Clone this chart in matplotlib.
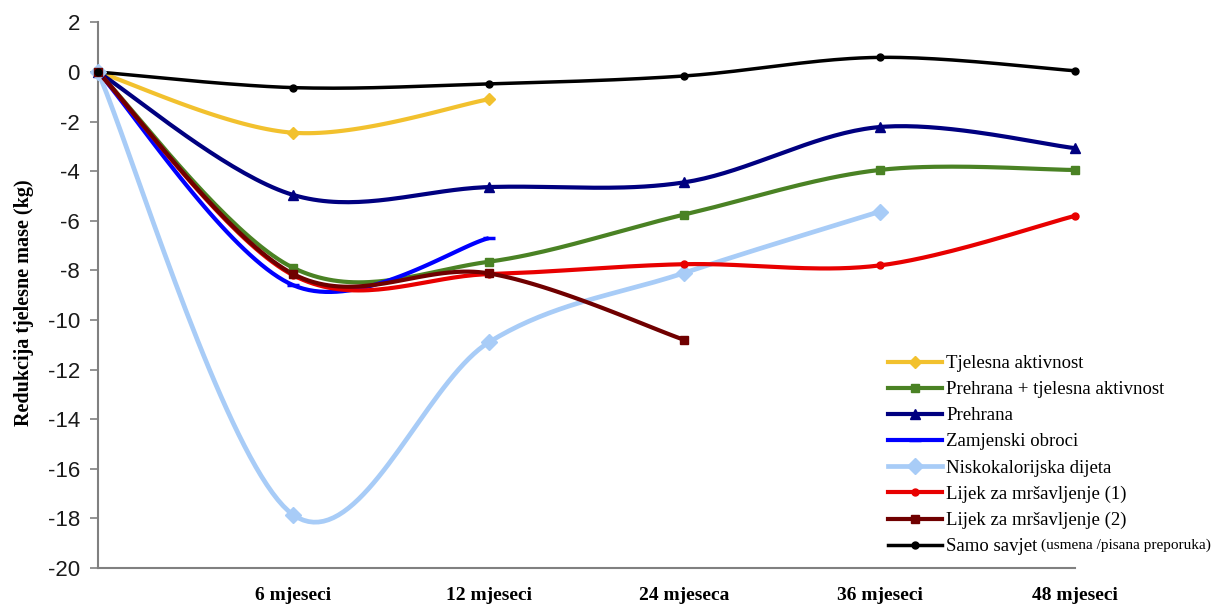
import numpy as np
import matplotlib
matplotlib.use('Agg')
from matplotlib import pyplot as plt

plt.rcParams['axes.unicode_minus'] = False

# categories on the x axis (equally spaced, as in the original spreadsheet chart)
categories = ['0', '6 mjeseci', '12 mjeseci', '24 mjeseca', '36 mjeseci', '48 mjeseci']

# weight reduction (kg)
tjelesna = [0, -2.45, -1.1]
prehrana_tjel = [0, -7.9, -7.65, -5.75, -3.95, -3.95]
prehrana = [0, -4.96, -4.64, -4.45, -2.22, -3.07]
zamjenski = [0, -8.6, -6.7]
niskokal = [0, -17.86, -10.9, -8.1, -5.63]
lijek1 = [0, -8.2, -8.15, -7.75, -7.8, -5.8]
lijek2 = [0, -8.15, -8.12, -10.8]
savjet = [0, -0.63, -0.48, -0.16, 0.59, 0.05]

series = [
    ('Tjelesna aktivnost', tjelesna, '#F2C12E', 'D', 6),
    ('Prehrana + tjelesna aktivnost', prehrana_tjel, '#4A8224', 's', 6),
    ('Prehrana', prehrana, '#000080', '^', 7),
    ('Zamjenski obroci', zamjenski, '#0000FF', '_', 9),
    ('Niskokalorijska dijeta', niskokal, '#A8CCF7', 'D', 8),
    ('Lijek za mršavljenje (1)', lijek1, '#E80000', 'o', 5),
    ('Lijek za mršavljenje (2)', lijek2, '#700000', 's', 6),
    ('Samo savjet', savjet, '#000000', 'o', 5),
]


def excel_smooth(y, n=40):
    # bezier smoothing between points, like the spreadsheet "smoothed line"
    x = np.arange(len(y), dtype=float)
    y = np.asarray(y, dtype=float)
    px = np.concatenate([[x[0]], x, [x[-1]]])
    py = np.concatenate([[y[0]], y, [y[-1]]])
    xs, ys = [], []
    t = np.linspace(0, 1, n)
    for i in range(len(y) - 1):
        p0 = np.array([x[i], y[i]])
        p3 = np.array([x[i + 1], y[i + 1]])
        c1 = p0 + (np.array([px[i + 2], py[i + 2]]) - np.array([px[i], py[i]])) / 6
        c2 = p3 - (np.array([px[i + 3], py[i + 3]]) - np.array([px[i + 1], py[i + 1]])) / 6
        b = ((1 - t) ** 3)[:, None] * p0 + (3 * (1 - t) ** 2 * t)[:, None] * c1 \
            + (3 * (1 - t) * t ** 2)[:, None] * c2 + (t ** 3)[:, None] * p3
        xs.append(b[:, 0])
        ys.append(b[:, 1])
    return np.concatenate(xs), np.concatenate(ys)


W, H = 1216, 605
fig = plt.figure(figsize=(W / 100, H / 100), dpi=100)
ax = fig.add_axes([98 / W, 1 - 568 / H, (1075 - 98) / W, (568 - 22.4) / H])

handles = []
for label, vals, color, marker, ms in series:
    lw = 2.5 if color == '#000000' else 3.0
    if color == '#A8CCF7':
        lw = 3.4
    sx, sy = excel_smooth(vals)
    ax.plot(sx, sy, color=color, lw=lw, solid_capstyle='butt', clip_on=False, zorder=3)
    mew = 2.5 if marker == '_' else 1
    ax.plot(range(len(vals)), vals, linestyle='none', marker=marker, ms=ms,
            color=color, mew=mew, clip_on=False, zorder=4)
    h, = ax.plot([], [], color=color, lw=lw, marker=marker, ms=ms, mew=mew)
    handles.append((h, label))

ax.set_xlim(0, len(categories) - 1)
ax.set_ylim(-20, 2)
ax.set_yticks(range(-20, 3, 2))
ax.set_xticks(range(1, len(categories)))
ax.set_xticklabels(categories[1:], fontfamily='Liberation Serif', fontweight='bold', fontsize=14)

for s in ['top', 'right']:
    ax.spines[s].set_visible(False)
for s in ['left', 'bottom']:
    ax.spines[s].set_color('#808080')
    ax.spines[s].set_linewidth(1.5)

ax.tick_params(axis='x', length=0, pad=14)
ax.tick_params(axis='y', length=6, width=1.2, color='#808080', pad=7,
               labelsize=16, labelcolor='#1a1a1a')
for t in ax.get_yticklabels():
    t.set_fontfamily('Liberation Sans')

ax.set_ylabel('Redukcija tjelesne mase (kg)', fontfamily='Liberation Serif',
              fontweight='bold', fontsize=14.5)
ax.yaxis.set_label_coords(-0.066, 0.487)

leg = fig.legend([h for h, _ in handles], [l for _, l in handles],
                 loc='upper left', bbox_to_anchor=(888 / W, 1 - 355 / H),
                 frameon=False, borderpad=0, borderaxespad=0, handlelength=2.9,
                 handletextpad=0.2, labelspacing=0.48, numpoints=1,
                 prop={'family': 'Liberation Serif', 'size': 13.5})

fig.canvas.draw()
bb = leg.get_texts()[-1].get_window_extent()
fig.text((bb.x1 + 4) / W, bb.y0 / H + 0.005, '(usmena /pisana preporuka)',
         fontfamily='Liberation Serif', fontsize=11, va='bottom', ha='left')

fig.savefig('out.png', dpi=100)
